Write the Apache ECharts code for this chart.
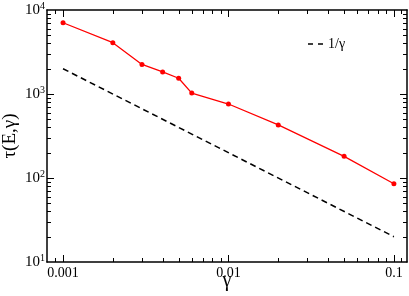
<!DOCTYPE html>
<html><head><meta charset="utf-8">
<script src="https://cdn.jsdelivr.net/npm/echarts@6/dist/echarts.min.js"></script>
<style>html,body{margin:0;padding:0;background:#fff}#c{width:409px;height:296px}</style>
</head><body><div id="c"></div>
<script>
var gamma = [0.001, 0.002, 0.003, 0.004, 0.005, 0.006, 0.01, 0.02, 0.05, 0.1];
var tau = [7050, 4080, 2250, 1830, 1540, 1025, 760, 428, 181, 85.5];
var refGamma = [0.001, 0.1];
var refTau = [2000, 20];
var xMajorTicks = [0.001, 0.01, 0.1];
var yMajorTicks = [100, 1000];
var xMinorTicks = [0.0009, 0.002, 0.003, 0.004, 0.005, 0.006, 0.007, 0.008, 0.009,
                   0.02, 0.03, 0.04, 0.05, 0.06, 0.07, 0.08, 0.09, 0.11];
var yMinorTicks = [20, 30, 40, 50, 60, 70, 80, 90, 200, 300, 400, 500, 600, 700, 800, 900,
                   2000, 3000, 4000, 5000, 6000, 7000, 8000, 9000];

var FONT = 'Liberation Serif';
var X_MIN = 0.0008, X_MAX = 0.12, Y_MIN = 10, Y_MAX = 10000;
function pw(v){ var e = Math.round(Math.log10(v)); return '{b|10}{s|' + e + '}'; }

var axisCommon = {
  type: 'log', logBase: 10,
  axisLine: {show: true, lineStyle: {color: '#000', width: 1.5}},
  axisTick: {show: false},
  splitLine: {show: false}
};

function tickRender(dir, L) {
  return function(params, api) {
    var cs = params.coordSys;
    if (dir === 'x') {
      var p = api.coord([api.value(0), Y_MIN]);
      var x = Math.round(p[0]) + 0.5;
      return {type: 'group', children: [
        {type: 'line', shape: {x1: x, y1: cs.y + cs.height, x2: x, y2: cs.y + cs.height - L}, style: {stroke: '#000', lineWidth: 1}},
        {type: 'line', shape: {x1: x, y1: cs.y, x2: x, y2: cs.y + L}, style: {stroke: '#000', lineWidth: 1}}
      ]};
    } else {
      var q = api.coord([X_MIN, api.value(1)]);
      var y = Math.round(q[1]) + 0.5;
      return {type: 'group', children: [
        {type: 'line', shape: {x1: cs.x, y1: y, x2: cs.x + L, y2: y}, style: {stroke: '#000', lineWidth: 1}},
        {type: 'line', shape: {x1: cs.x + cs.width, y1: y, x2: cs.x + cs.width - L, y2: y}, style: {stroke: '#000', lineWidth: 1}}
      ]};
    }
  };
}
function tickSeries(name, vals, dir, L) {
  return {
    type: 'custom', name: name, xAxisIndex: 0, yAxisIndex: 0,
    data: vals.map(function(v){ return dir === 'x' ? [v, Y_MIN] : [X_MIN, v]; }),
    renderItem: tickRender(dir, L)
  };
}

var chart = echarts.init(document.getElementById('c'));
chart.setOption({
  animation: false,
  grid: {left: 47, right: 2, top: 10, bottom: 34, containLabel: false, outerBoundsMode: 'none'},
  legend: {
    data: [{name: '1/γ', icon: 'path://M0,0h5v1.5h-5zM10,0h5v1.5h-5z'}],
    left: 303, top: 32, itemWidth: 15, itemHeight: 1.5, itemGap: 7,
    textStyle: {fontFamily: FONT, fontSize: 14, color: '#000'}
  },
  xAxis: [
    Object.assign({}, axisCommon, {
      position: 'bottom', min: X_MIN, max: X_MAX,
      name: 'γ', nameLocation: 'middle', nameGap: 9, nameMoveOverlap: false,
      nameTextStyle: {fontFamily: FONT, fontSize: 20, color: '#000'},
      axisLabel: {show: true, margin: 4, showMinLabel: false, showMaxLabel: false,
        fontFamily: FONT, fontSize: 14, color: '#000', formatter: function(v){
          var e = Math.log10(v); if (Math.abs(e - Math.round(e)) > 1e-6) return '';
          e = Math.round(e); return Math.pow(10, e).toFixed(-e); }}
    }),
    Object.assign({}, axisCommon, {
      position: 'top', min: X_MIN, max: X_MAX, axisLabel: {show: false}
    })
  ],
  yAxis: [
    Object.assign({}, axisCommon, {
      position: 'left', min: Y_MIN, max: Y_MAX,
      name: 'τ(E,γ)', nameLocation: 'middle', nameGap: 27, nameRotate: 90, nameMoveOverlap: false,
      nameTextStyle: {fontFamily: FONT, fontSize: 19, color: '#000'},
      axisLabel: {show: true, margin: 2, formatter: pw,
        rich: {b: {fontFamily: FONT, fontSize: 15, color: '#000', lineHeight: 18},
               s: {fontFamily: FONT, fontSize: 10, color: '#000', verticalAlign: 'top'}}}
    }),
    Object.assign({}, axisCommon, {
      position: 'right', min: Y_MIN, max: Y_MAX, axisLabel: {show: false}
    })
  ],
  series: [
    tickSeries('xmajor', xMajorTicks, 'x', 7),
    tickSeries('ymajor', yMajorTicks, 'y', 7),
    tickSeries('xminor', xMinorTicks, 'x', 4),
    tickSeries('yminor', yMinorTicks, 'y', 4),
    {
      type: 'line', name: 'data', xAxisIndex: 0, yAxisIndex: 0,
      data: gamma.map(function(g, i){ return [g, tau[i]]; }),
      symbol: 'circle', symbolSize: 5, showSymbol: true,
      lineStyle: {color: '#ff0000', width: 1.3}, itemStyle: {color: '#ff0000'}
    },
    {
      type: 'line', name: '1/γ', xAxisIndex: 0, yAxisIndex: 0,
      data: refGamma.map(function(g, i){ return [g, refTau[i]]; }),
      showSymbol: false, symbol: 'none',
      lineStyle: {color: '#000', width: 1.5, type: [6, 4]}, itemStyle: {color: '#000'}
    }
  ]
});
</script></body></html>
